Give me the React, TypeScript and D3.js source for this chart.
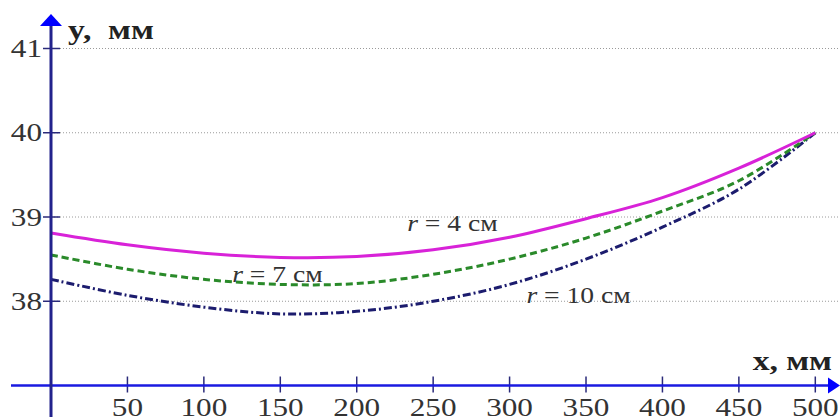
import React from "react";
import * as d3 from "d3";

const xValues = [0, 50, 100, 150, 200, 250, 300, 350, 400, 450, 500];
const r4Values = [38.81, 38.67, 38.57, 38.52, 38.53, 38.61, 38.76, 38.98, 39.23, 39.58, 40.0];
const r7Values = [38.55, 38.38, 38.26, 38.2, 38.21, 38.32, 38.5, 38.75, 39.07, 39.43, 40.0];
const r10Values = [38.26, 38.07, 37.93, 37.85, 37.88, 38.0, 38.2, 38.5, 38.88, 39.33, 40.0];
const xTicks = [50, 100, 150, 200, 250, 300, 350, 400, 450, 500];
const yTicks = [38, 39, 40, 41];
const seriesNames = ["4", "7", "10"];

const W = 840;
const H = 417;
const FONT = "'Liberation Serif', 'Times New Roman', serif";
const SX = 1.2;

function T(props: {
  x: number;
  y: number;
  size: number;
  anchor?: string;
  weight?: string;
  fill?: string;
  children: React.ReactNode;
}) {
  const { x, y, size, anchor = "start", weight = "normal", fill = "#333", children } = props;
  return (
    <text
      transform={`translate(${x},${y}) scale(${SX},1)`}
      fontFamily={FONT}
      fontSize={size}
      fontWeight={weight}
      textAnchor={anchor}
      fill={fill}
      xmlSpace="preserve"
    >
      {children}
    </text>
  );
}

export default function App() {
  const x = d3.scaleLinear().domain([0, 500]).range([51, 815.3]);
  const y = d3.scaleLinear().domain([37, 41]).range([385.5, 48.5]);
  const line = (vals: number[]) =>
    d3
      .line<number>()
      .x((_, i) => x(xValues[i]))
      .y((d) => y(d))
      .curve(d3.curveCatmullRom.alpha(0.5))(vals) as string;

  const axisY = y(37);
  const axisX = x(0);

  return (
    <svg
      width={W}
      height={H}
      style={{ position: "absolute", left: 0, top: 0, background: "#fff" }}
    >
      <rect x={0} y={0} width={W} height={H} fill="#fff" />
      {/* grid */}
      {yTicks.map((t) => (
        <line
          key={"g" + t}
          x1={axisX}
          x2={W}
          y1={y(t)}
          y2={y(t)}
          stroke="#9a9a9a"
          strokeWidth={1}
          strokeDasharray="1,2"
        />
      ))}
      {/* y ticks */}
      {yTicks.map((t) => (
        <g key={"yt" + t}>
          <line x1={43} x2={60} y1={y(t)} y2={y(t)} stroke="#2a2a7a" strokeWidth={1.5} />
          <T x={42} y={y(t) + 8.6} size={26} anchor="end">
            {String(t)}
          </T>
        </g>
      ))}
      {/* x ticks */}
      {xTicks.map((t) => (
        <g key={"xt" + t}>
          <line x1={x(t)} x2={x(t)} y1={axisY - 9} y2={axisY + 7} stroke="#2a2a7a" strokeWidth={1.5} />
          <T x={x(t)} y={416} size={26} anchor="middle">
            {String(t)}
          </T>
        </g>
      ))}
      {/* curves */}
      <path d={line(r10Values)} fill="none" stroke="#1c1c6e" strokeWidth={3} strokeDasharray="8,3,2,3" />
      <path d={line(r7Values)} fill="none" stroke="#2a8a2a" strokeWidth={3} strokeDasharray="7,4" />
      <path d={line(r4Values)} fill="none" stroke="#d822d8" strokeWidth={3} />
      {/* axes */}
      <line x1={11} x2={828} y1={axisY} y2={axisY} stroke="#1a1ae0" strokeWidth={2.5} />
      <path d={`M${828},${axisY - 8} L${840},${axisY} L${828},${axisY + 8} Z`} fill="#0000ff" />
      <line x1={axisX} x2={axisX} y1={H} y2={25} stroke="#22228c" strokeWidth={3} />
      <path d={`M${axisX - 11},${26} L${axisX},${14} L${axisX + 11},${26} Z`} fill="#0000ff" />
      {/* axis labels */}
      <T x={68} y={39} size={28} weight="bold" fill="#222">
        {"y,  мм"}
      </T>
      <T x={832} y={370} size={28} weight="bold" fill="#222" anchor="end">
        {"x, мм"}
      </T>
      {/* series labels */}
      {[
        { n: seriesNames[0], px: 233, py: 38.83 },
        { n: seriesNames[1], px: 118.5, py: 38.23 },
        { n: seriesNames[2], px: 311, py: 37.98 },
      ].map((l) => (
        <T key={l.n} x={x(l.px)} y={y(l.py)} size={23}>
          <tspan fontStyle="italic">r</tspan>
          {" = " + l.n + " см"}
        </T>
      ))}
    </svg>
  );
}
